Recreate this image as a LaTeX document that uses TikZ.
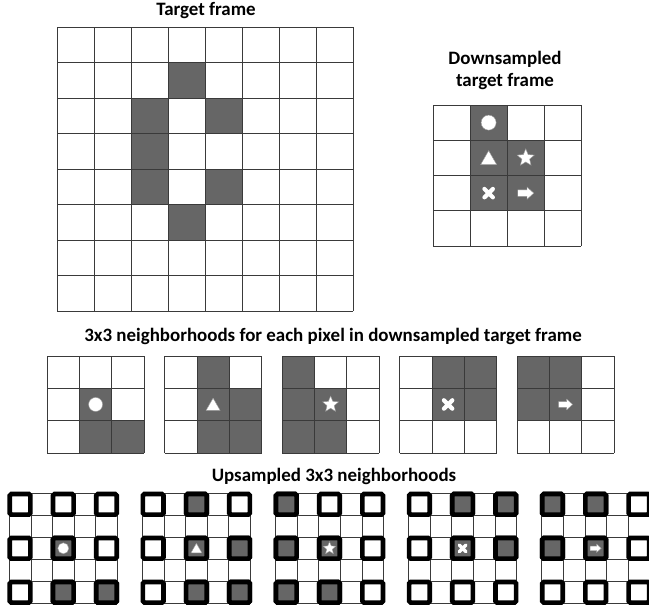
\documentclass[tikz,border=0pt]{standalone}
\usepackage{fontspec}
\setmainfont{Carlito}
\definecolor{cellgray}{HTML}{666666}
\definecolor{gline}{HTML}{3A3A3A}
\begin{document}
\begin{tikzpicture}[x=0.75pt,y=0.75pt,
  gridline/.style={draw=gline, line width=0.6pt},
  darkcell/.style={fill=cellgray},
  title/.style={font=\bfseries\fontsize{14.2}{17}\selectfont, anchor=base, inner sep=0pt},
  thickbox/.style={draw=black, line width=3.5pt, rounded corners=1.2pt},
  symfill/.style={fill=white, draw=black!40, line width=0.3pt},
  symcircle/.pic={\path[symfill] (0,0) circle (0.5*#1);},
  symtri/.pic={\path[symfill] (-0.5*#1,-0.42*#1) -- (0.5*#1,-0.42*#1) -- (0,0.45*#1) -- cycle;},
  symstar/.pic={\path[symfill] (90:0.6*#1) -- (126:0.27*#1) -- (162:0.6*#1) -- (198:0.27*#1) -- (234:0.6*#1) -- (270:0.27*#1) -- (306:0.6*#1) -- (342:0.27*#1) -- (18:0.6*#1) -- (54:0.27*#1) -- cycle;},
  symx/.pic={\draw[white, line width=0.3*#1*0.75pt, line cap=round] (-0.3*#1,-0.3*#1) -- (0.3*#1,0.3*#1) (-0.3*#1,0.3*#1) -- (0.3*#1,-0.3*#1);},
  symarrow/.pic={\path[symfill] (-0.5*#1,-0.2*#1) -- (0.08*#1,-0.2*#1) -- (0.08*#1,-0.38*#1) -- (0.5*#1,0) -- (0.08*#1,0.38*#1) -- (0.08*#1,0.2*#1) -- (-0.5*#1,0.2*#1) -- cycle;},
]
\useasboundingbox (0,0) rectangle (649,-611);

% ---------- Target frame ----------
\node[title] (t1) at (206,-15.7) {Target frame};
\def\gx{57}\def\gy{27}\def\cw{37}\def\ch{35.5}
\foreach \c/\r in {3/1,2/2,4/2,2/3,2/4,4/4,3/5}
  \fill[darkcell] (\gx+\c*\cw,-\gy-\r*\ch) rectangle ++(\cw,-\ch);
\foreach \i in {0,...,8} {
  \draw[gridline] (\gx+\i*\cw,-\gy) -- ++(0,-8*\ch);
  \draw[gridline] (\gx,-\gy-\i*\ch) -- ++(8*\cw,0);
}

% ---------- Downsampled target frame ----------
\node[title] (t2a) at (505,-64.7) {Downsampled};
\node[title] (t2b) at (505,-86.7) {target frame};
\def\dx{433}\def\dy{105}\def\dw{37.1}\def\dh{35.25}
\foreach \c/\r in {1/0,1/1,2/1,1/2,2/2}
  \fill[darkcell] (\dx+\c*\dw,-\dy-\r*\dh) rectangle ++(\dw,-\dh);
\foreach \i in {0,...,4} {
  \draw[gridline] (\dx+\i*\dw,-\dy) -- ++(0,-4*\dh);
  \draw[gridline] (\dx,-\dy-\i*\dh) -- ++(4*\dw,0);
}
\pic at (\dx+1.5*\dw,-\dy-0.5*\dh) {symcircle=15};
\pic at (\dx+1.5*\dw,-\dy-1.5*\dh) {symtri=16};
\pic at (\dx+2.5*\dw,-\dy-1.5*\dh) {symstar=15};
\pic at (\dx+1.5*\dw,-\dy-2.5*\dh) {symx=14};
\pic at (\dx+2.5*\dw,-\dy-2.5*\dh) {symarrow=16};

% ---------- 3x3 neighborhoods ----------
\node[title] (t3) at (333,-341.3) {3x3 neighborhoods for each pixel in downsampled target frame};
\def\my{356}\def\mw{32.4}\def\mh{32.3}
\foreach \k/\cells/\sym in {
  0/{1/1,1/2,2/2}/symcircle,
  1/{1/0,1/1,2/1,1/2,2/2}/symtri,
  2/{0/0,0/1,1/1,0/2,1/2}/symstar,
  3/{1/0,2/0,1/1,2/1}/symx,
  4/{0/0,1/0,0/1,1/1}/symarrow} {
  \pgfmathsetmacro{\mx}{47+117.5*\k}
  \foreach \c/\r in \cells
    \fill[darkcell] (\mx+\c*\mw,-\my-\r*\mh) rectangle ++(\mw,-\mh);
  \foreach \i in {0,...,3} {
    \draw[gridline] (\mx+\i*\mw,-\my) -- ++(0,-3*\mh);
    \draw[gridline] (\mx,-\my-\i*\mh) -- ++(3*\mw,0);
  }
  \pic at (\mx+1.5*\mw,-\my-1.5*\mh) {\sym=14};
}

% ---------- Upsampled 3x3 neighborhoods ----------
\node[title] (t4) at (334,-481) {Upsampled 3x3 neighborhoods};
\def\uy{493.3}\def\uw{21.6}\def\uh{22}
\foreach \k/\cells/\sym in {
  0/{1/1,1/2,2/2}/symcircle,
  1/{1/0,1/1,2/1,1/2,2/2}/symtri,
  2/{0/0,0/1,1/1,0/2,1/2}/symstar,
  3/{1/0,2/0,1/1,2/1}/symx,
  4/{0/0,1/0,0/1,1/1}/symarrow} {
  \pgfmathsetmacro{\ux}{9.3+133.1*\k}
  \foreach \i in {0,...,5} {
    \draw[gridline] (\ux+\i*\uw,-\uy) -- ++(0,-5*\uh);
    \draw[gridline] (\ux,-\uy-\i*\uh) -- ++(5*\uw,0);
  }
  \foreach \c in {0,1,2} \foreach \r in {0,1,2}
    \draw[thickbox, fill=white] (\ux+2*\c*\uw+0.5*\uw-10.3,-\uy-2*\r*\uh-0.5*\uh+10.3) rectangle ++(20.6,-20.6);
  \foreach \c/\r in \cells
    \draw[thickbox, fill=cellgray] (\ux+2*\c*\uw+0.5*\uw-10.3,-\uy-2*\r*\uh-0.5*\uh+10.3) rectangle ++(20.6,-20.6);
  \pic at (\ux+2.5*\uw,-\uy-2.5*\uh) {\sym=11};
}
\end{tikzpicture}
\end{document}
